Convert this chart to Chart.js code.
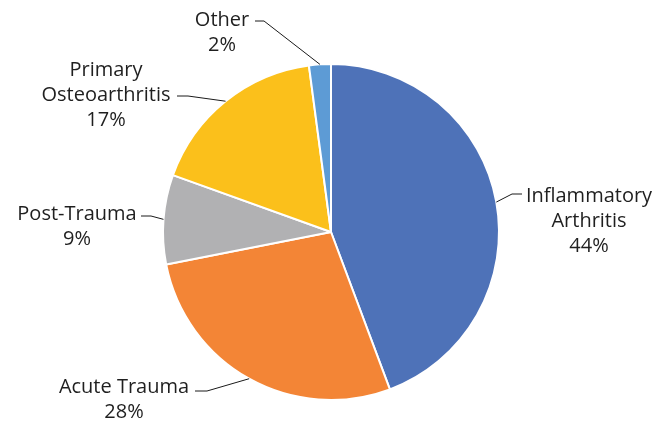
<!DOCTYPE html>
<html>
<head>
<meta charset="utf-8">
<script src="https://cdn.jsdelivr.net/npm/chart.js@4.4.0/dist/chart.umd.min.js"></script>
<style>
html,body{margin:0;padding:0;background:#fff;}
#wrap{width:665px;height:425px;position:relative;}
</style>
</head>
<body>
<div id="wrap"><canvas id="c" width="665" height="425"></canvas></div>
<script>
const categories = ["Inflammatory Arthritis", "Acute Trauma", "Post-Trauma", "Primary Osteoarthritis", "Other"];
const labelLines = [["Inflammatory","Arthritis"], ["Acute Trauma"], ["Post-Trauma"], ["Primary","Osteoarthritis"], ["Other"]];
const values = [44.3, 27.6, 8.6, 17.4, 2.1];
const colors = ["#4E72B8", "#F38536", "#B1B1B3", "#FBC01B", "#5D9BD5"];

// label layout: text centre x, first line centre y, elbow point, horizontal end point
const labelLayout = [
  {cx: 589, cy: 196, elbow: [512, 194], end: [522, 194]},
  {cx: 124, cy: 387, elbow: [207, 391], end: [195, 391]},
  {cx: 77,  cy: 214, elbow: [151, 216], end: [141, 216]},
  {cx: 106, cy: 70,  elbow: [188, 96],  end: [177, 96]},
  {cx: 222, cy: 20,  elbow: [264, 21],  end: [255, 21]}
];

const FONT = '20px "Open Sans", "Lato", sans-serif';
const LINE_H = 25;

const labelPlugin = {
  id: 'outLabels',
  afterDatasetsDraw(chart) {
    const ctx = chart.ctx;
    const meta = chart.getDatasetMeta(0);
    const total = values.reduce((a, b) => a + b, 0);
    ctx.save();
    meta.data.forEach((arc, i) => {
      const p = arc.getProps(['x', 'y', 'startAngle', 'endAngle', 'outerRadius'], true);
      const mid = (p.startAngle + p.endAngle) / 2;
      const ax = p.x + Math.cos(mid) * p.outerRadius;
      const ay = p.y + Math.sin(mid) * p.outerRadius;
      const L = labelLayout[i];
      ctx.strokeStyle = '#1a1a1a';
      ctx.lineWidth = 1;
      ctx.beginPath();
      ctx.moveTo(ax, ay);
      ctx.lineTo(L.elbow[0], L.elbow[1]);
      ctx.lineTo(L.end[0], L.end[1]);
      ctx.stroke();
      const lines = labelLines[i].concat([Math.round(values[i] / total * 100) + '%']);
      ctx.fillStyle = '#1f1f1f';
      ctx.font = FONT;
      ctx.textAlign = 'center';
      ctx.textBaseline = 'middle';
      lines.forEach((t, k) => ctx.fillText(t, L.cx, L.cy + k * LINE_H));
    });
    ctx.restore();
  }
};

new Chart(document.getElementById('c'), {
  type: 'pie',
  data: {
    labels: categories,
    datasets: [{
      data: values,
      backgroundColor: colors,
      borderColor: '#ffffff',
      borderWidth: 2
    }]
  },
  options: {
    responsive: false,
    animation: false,
    radius: 168,
    layout: {padding: {top: 40, bottom: 1, left: 0, right: 3}},
    plugins: {legend: {display: false}, tooltip: {enabled: false}}
  },
  plugins: [labelPlugin]
});
</script>
</body>
</html>
